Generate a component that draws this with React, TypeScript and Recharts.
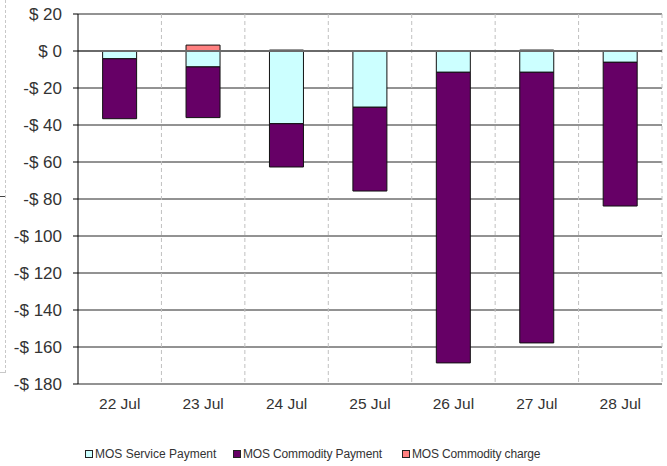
import React from 'react';
import {
  BarChart,
  Bar,
  XAxis,
  YAxis,
  CartesianGrid,
  ReferenceLine,
  Legend,
} from 'recharts';

const days = ['22 Jul', '23 Jul', '24 Jul', '25 Jul', '26 Jul', '27 Jul', '28 Jul'];
const servicePayment = [-4.2, -8.6, -39.3, -30.4, -11.5, -11.5, -6.1];
const commodityPayment = [-32.4, -27.4, -23.4, -45.3, -157.1, -146.3, -77.7];
const commodityCharge = [0, 3.2, 0.5, 0, 0, 0.5, 0];
const yTicks = [20, 0, -20, -40, -60, -80, -100, -120, -140, -160, -180];

const series = [
  { key: 'service', name: 'MOS Service Payment', color: '#CCFFFF' },
  { key: 'commodity', name: 'MOS Commodity Payment', color: '#660066' },
  { key: 'charge', name: 'MOS Commodity charge', color: '#FF8080' },
];

const data = days.map((day, i) => ({
  day,
  service: servicePayment[i],
  commodity: commodityPayment[i],
  charge: commodityCharge[i],
}));

const fmt = (v: number) => (v < 0 ? `-$ ${-v}` : `$ ${v}`);

const font = '"Liberation Sans", Arial, sans-serif';
// legend item left edges, as in the original
const legendX = [85, 233, 402];

function LegendBox() {
  return (
    <div
      style={{
        position: 'relative',
        height: 40,
        fontFamily: font,
        fontSize: 12,
        color: '#333',
        lineHeight: '14px',
      }}
    >
      {series.map((s, i) => (
        <span
          key={s.key}
          style={{
            position: 'absolute',
            left: legendX[i],
            top: 21,
            display: 'flex',
            alignItems: 'center',
            whiteSpace: 'nowrap',
            letterSpacing: i > 0 ? -0.15 : 0,
          }}
        >
          <span
            style={{
              width: 6,
              height: 6,
              background: s.color,
              border: '1px solid #222',
              marginRight: 2,
              display: 'inline-block',
            }}
          />
          {s.name}
        </span>
      ))}
    </div>
  );
}

export default function App() {
  return (
    <div style={{ position: 'relative', width: 667, height: 466, background: '#fff' }}>
      <style>{'body{margin:0}'}</style>
      <div
        style={{
          position: 'absolute',
          left: 0,
          top: 0,
          width: 5,
          height: 372,
          borderRight: '1px dashed #c8c8c8',
          borderBottom: '1px dashed #c8c8c8',
        }}
      />
      <div style={{ position: 'absolute', left: 0, top: 196, width: 5, height: 1, background: '#444' }} />
      <BarChart
        width={667}
        height={466}
        data={data}
        stackOffset="sign"
        barCategoryGap="29.5%"
        margin={{ top: 14, right: 5, left: 0, bottom: 0 }}
      >
        <CartesianGrid vertical={false} stroke="#000" strokeOpacity={0.85} />
        <CartesianGrid
          horizontal={false}
          stroke="#c0c0c0"
          strokeDasharray="4 3"
          verticalCoordinatesGenerator={({ offset }: any) =>
            days.map((_, k) => offset.left + (offset.width * (k + 1)) / days.length)
          }
        />
        <XAxis
          dataKey="day"
          axisLine={false}
          tickLine={false}
          tickSize={0}
          tickMargin={14}
          height={42}
          tick={{ fill: '#333', fontSize: 15.5, fontFamily: font }}
        />
        <YAxis
          domain={[-180, 20]}
          ticks={yTicks}
          interval={0}
          width={78}
          tickFormatter={fmt}
          tickSize={5}
          tickMargin={11}
          axisLine={{ stroke: '#000' }}
          tickLine={{ stroke: '#000' }}
          tick={{ fill: '#333', fontSize: 17, fontFamily: font }}
        />
        <Legend verticalAlign="bottom" content={() => <LegendBox />} />
        <ReferenceLine y={0} stroke="#6a6a6a" strokeWidth={2} />
        {series.map((s) => (
          <Bar
            key={s.key}
            dataKey={s.key}
            name={s.name}
            stackId="a"
            fill={s.color}
            stroke="#111"
            strokeWidth={1}
            isAnimationActive={false}
          />
        ))}
      </BarChart>
    </div>
  );
}
